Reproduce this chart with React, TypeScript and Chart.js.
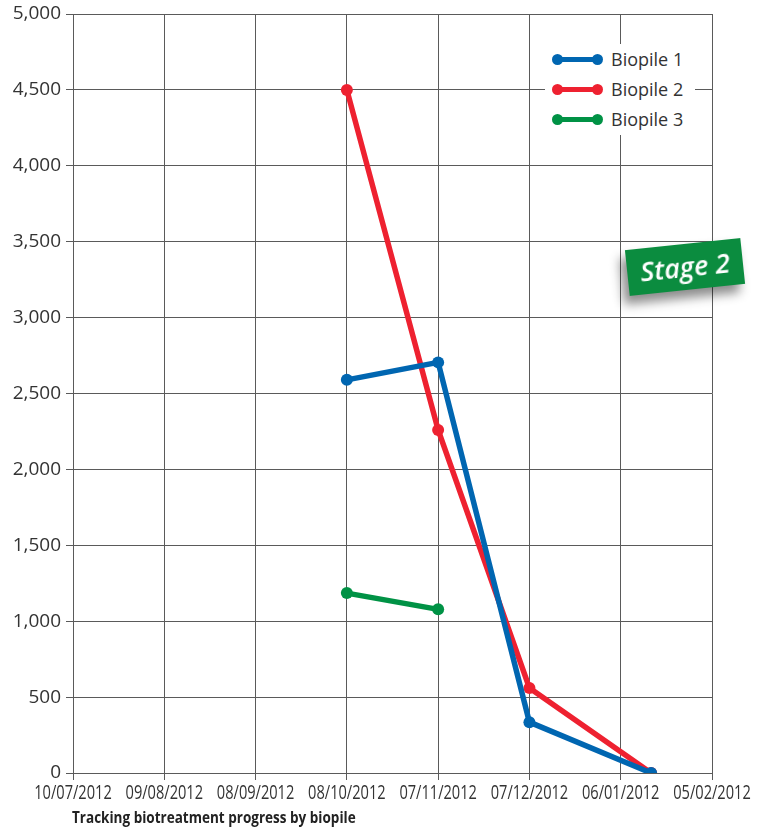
import React, { useEffect, useRef } from "react";
import { Chart, registerables } from "chart.js";

Chart.register(...registerables);

// ---- Data ----
const xTickLabels = [
  "10/07/2012",
  "09/08/2012",
  "08/09/2012",
  "08/10/2012",
  "07/11/2012",
  "07/12/2012",
  "06/01/2012",
  "05/02/2012",
];
// days after 10/07/2012 of each sampling
const sampleDays = [90, 120, 150, 190];
const biopile1 = [2590, 2705, 335, 0];
const biopile2 = [4500, 2260, 560, 0];
const biopile3 = [1185, 1078, null, null];
const seriesLabels = ["Biopile 1", "Biopile 2", "Biopile 3"];
const seriesColors = ["#0066b1", "#ee2130", "#009245"];
const yTickValues = [0, 500, 1000, 1500, 2000, 2500, 3000, 3500, 4000, 4500, 5000];
const captionText = "Tracking biotreatment progress by biopile";
const badgeText = "Stage 2";

const W = 768;
const H = 827;
const GRID = "#5a5a5a";
const TEXT = "#333333";
const X_FONT = "20px 'Open Sans', sans-serif";
const X_SQUEEZE = 0.73;

// draws x tick labels horizontally condensed (as in the reference)
const condensedXLabels = {
  id: "condensedXLabels",
  afterDraw(chart: any) {
    const sc = chart.scales.x;
    const ctx = chart.ctx;
    ctx.save();
    ctx.font = X_FONT;
    ctx.fillStyle = TEXT;
    ctx.textAlign = "center";
    ctx.textBaseline = "top";
    sc.ticks.forEach((t: any) => {
      const label = xTickLabels[Math.round(Number(t.value) / 30)] ?? "";
      const px = sc.getPixelForValue(t.value);
      ctx.save();
      ctx.translate(px, sc.top + 10);
      ctx.scale(X_SQUEEZE, 1);
      ctx.fillText(label, 0, 0);
      ctx.restore();
    });
    ctx.restore();
  },
};

export default function App() {
  const ref = useRef<HTMLCanvasElement | null>(null);

  useEffect(() => {
    if (!ref.current) return;
    const values = [biopile1, biopile2, biopile3];
    const datasets = values.map((vals, i) => ({
      label: seriesLabels[i],
      data: sampleDays
        .map((d, j) => ({ x: d, y: vals[j] as number | null }))
        .filter((p) => p.y !== null),
      borderColor: seriesColors[i],
      backgroundColor: seriesColors[i],
      borderWidth: 5.5,
      pointRadius: 6,
      pointHoverRadius: 6,
      pointBorderWidth: 0,
      tension: 0,
    }));

    const chart = new Chart(ref.current, {
      type: "line",
      data: { datasets },
      plugins: [condensedXLabels],
      options: {
        responsive: false,
        animation: false,
        layout: { padding: { top: 14, right: 56, left: 0, bottom: 0 } },
        plugins: {
          legend: { display: false },
          tooltip: { enabled: false },
          title: { display: false },
        },
        scales: {
          x: {
            type: "linear",
            min: 0,
            max: 210,
            afterBuildTicks: (axis: any) => {
              axis.ticks = xTickLabels.map((_, i) => ({ value: i * 30 }));
            },
            afterFit: (axis: any) => {
              axis.height = 54;
            },
            ticks: {
              autoSkip: false,
              maxRotation: 0,
              padding: 3,
              color: "rgba(0,0,0,0)",
              font: { family: "'Open Sans', sans-serif", size: 10 },
              callback: (v: any) => xTickLabels[Math.round(Number(v) / 30)] ?? "",
            },
            grid: { color: GRID, lineWidth: 1, tickLength: 7, tickColor: GRID },
            border: { color: GRID, width: 1 },
          },
          y: {
            min: 0,
            max: 5000,
            afterBuildTicks: (axis: any) => {
              axis.ticks = yTickValues.map((v) => ({ value: v }));
            },
            afterFit: (axis: any) => {
              axis.width = 73;
            },
            ticks: {
              padding: 5,
              color: TEXT,
              font: { family: "'Open Sans', sans-serif", size: 19, lineHeight: 0.9 },
              callback: (v: any) => Number(v).toLocaleString("en-US"),
            },
            grid: { color: GRID, lineWidth: 1, tickLength: 7, tickColor: GRID },
            border: { color: GRID, width: 1 },
          },
        },
      },
    });
    return () => chart.destroy();
  }, []);

  return (
    <div style={{ position: "absolute", left: 0, top: 0, width: W, height: H, background: "#fff", overflow: "hidden" }}>
      <canvas ref={ref} width={W} height={H} style={{ display: "block", width: W, height: H }} />
      {/* Legend */}
      <div
        style={{
          position: "absolute",
          left: 545,
          top: 44,
          width: 150,
          height: 91,
          background: "#fff",
        }}
      >
        {seriesLabels.map((lab, i) => (
          <div key={lab} style={{ position: "absolute", left: 0, top: 15 + i * 30 - 12, height: 24, width: 150 }}>
            <div style={{ position: "absolute", left: 12, top: 9.5, width: 40, height: 5, background: seriesColors[i] }} />
            <div style={{ position: "absolute", left: 6.5, top: 6.5, width: 11, height: 11, borderRadius: "50%", background: seriesColors[i] }} />
            <div style={{ position: "absolute", left: 46.5, top: 6.5, width: 11, height: 11, borderRadius: "50%", background: seriesColors[i] }} />
            <div
              style={{
                position: "absolute",
                left: 66,
                top: 0,
                lineHeight: "24px",
                fontFamily: "'Open Sans', sans-serif",
                fontSize: 18,
                color: TEXT,
                whiteSpace: "nowrap",
              }}
            >
              {lab}
            </div>
          </div>
        ))}
      </div>
      {/* Badge */}
      <div
        style={{
          position: "absolute",
          left: 627,
          top: 244,
          width: 116,
          height: 46,
          background: "#0b8c3f",
          transform: "rotate(-6deg)",
          boxShadow: "-6px 8px 10px rgba(0,0,0,0.45)",
          color: "#fff",
          fontFamily: "'Open Sans', sans-serif",
          fontStyle: "italic",
          fontWeight: 600,
          fontSize: 27,
          lineHeight: "46px",
          textAlign: "center",
          whiteSpace: "nowrap",
        }}
      >
        {badgeText}
      </div>
      {/* Caption */}
      <div
        style={{
          position: "absolute",
          left: 72,
          top: 807,
          fontFamily: "'Open Sans', sans-serif",
          fontWeight: 700,
          fontSize: 16,
          lineHeight: "20px",
          color: "#222",
          whiteSpace: "nowrap",
          transform: "scaleX(0.845)",
          transformOrigin: "left center",
        }}
      >
        {captionText}
      </div>
    </div>
  );
}
